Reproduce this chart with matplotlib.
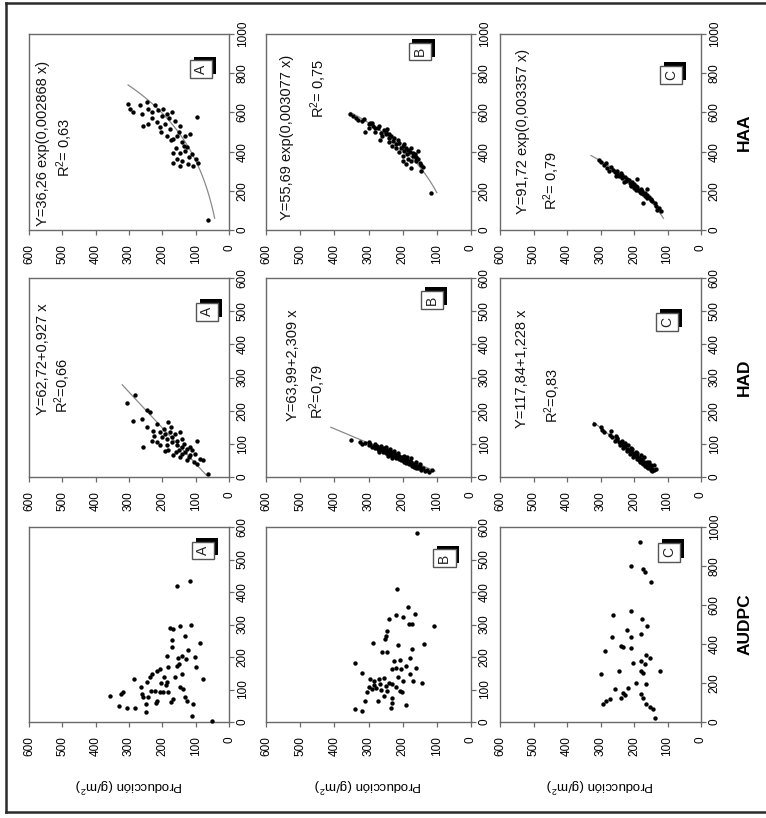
import numpy as np
import matplotlib
matplotlib.use("Agg")
import matplotlib.pyplot as plt
from matplotlib.lines import Line2D
import matplotlib.patheffects as pe

plt.rcParams['font.family'] = ['Liberation Sans', 'DejaVu Sans']
plt.rcParams['mathtext.fontset'] = 'custom'
plt.rcParams['mathtext.rm'] = 'Liberation Sans'
plt.rcParams['mathtext.it'] = 'Liberation Sans:italic'

# ---------------- data (production g/m2 vs disease variable) ----------------
audpc_a_prod = [117,155,177,167,147,114,132,172,87,124,187,152,142,129,102,99,157,182,207,217,232,237,142,162,285,79,187,189,245,264,147,137,222,207,197,182,317,324,357,262,257,242,217,219,169,175,132,127,107,329,307,282,249,249,112,52,195,170,150,235,205]
audpc_a_x = [435,417,289,286,296,299,266,252,242,222,202,198,203,195,201,168,173,170,163,156,148,137,148,137,132,132,124,114,122,107,109,102,96,92,92,92,91,86,81,86,76,76,66,58,71,61,76,66,55,50,42,42,55,30,19,2,140,230,180,95,120]

audpc_b_prod = [159,218,184,164,220,240,199,181,174,109,245,250,252,288,215,139,260,245,174,179,225,209,189,161,340,232,220,204,179,320,169,144,295,285,270,255,300,290,278,265,250,240,230,220,209,201,272,310,232,230,191,340,320,235,305,255,245,215,262,285,198]
audpc_b_x = [582,410,353,332,329,317,322,302,302,296,281,265,255,242,237,240,214,216,224,196,188,191,173,165,183,163,165,163,147,150,125,121,132,127,132,134,109,101,106,116,111,121,116,109,96,91,65,65,75,58,51,39,34,44,91,80,96,140,100,115,125]

audpc_c_prod = [183,208,173,168,148,208,263,175,161,265,221,208,178,238,233,208,288,163,153,178,203,168,245,178,173,123,298,193,163,218,233,228,238,258,178,173,283,293,273,163,153,143,138]
audpc_c_x = [921,798,785,768,717,571,551,529,491,437,474,437,449,392,386,380,363,346,329,312,304,295,261,261,249,264,244,201,193,176,150,136,124,167,142,125,107,90,116,90,78,65,20]

had_a_prod = [282,307,247,237,287,262,217,182,227,207,192,177,162,147,257,232,217,187,172,157,142,97,132,117,102,87,167,147,127,182,97,77,62,207,192,142,117,200,170,155,135,125,110,150,160,120,105,140,185,195,175,225,245]
had_a_x = [246,223,201,196,168,176,161,166,140,135,130,137,130,135,90,110,105,115,105,95,90,110,75,65,70,55,65,60,50,80,39,50,9,95,78,115,90,120,120,110,100,85,80,80,75,60,45,70,95,145,150,125,150]

had_b_prod = [350,326,318,310,300,295,290,285,280,275,272,268,265,260,258,255,250,248,245,242,240,236,234,230,228,225,222,220,218,215,212,210,207,204,202,200,197,195,192,190,187,185,182,180,177,175,172,170,167,165,160,158,155,150,145,140,135,130,122,115,300,280,262,250,238,226,214,196,186,176,160,150,270,244,232]
had_b_x = [112,106,100,104,95,99,90,94,88,92,84,80,88,82,76,86,78,72,80,70,76,66,74,68,62,72,64,58,66,60,54,64,56,50,60,52,46,56,48,42,52,44,40,48,38,44,34,40,30,36,28,34,26,30,22,26,18,22,14,20,105,100,94,90,84,78,72,64,60,56,44,40,74,64,58]

had_c_prod = [318,300,296,290,272,265,252,258,245,236,242,228,232,220,214,222,210,202,212,200,196,190,204,186,192,180,186,175,182,170,176,165,172,160,166,156,162,150,158,146,150,140,145,135,150,160,175,180,195,205,218,235,255,270,250,228,210,190,170,155,140]
had_c_x = [160,150,142,135,128,120,115,110,105,100,96,92,88,85,82,78,75,72,70,67,64,62,60,57,55,52,50,48,46,44,42,40,38,36,34,32,30,28,26,24,22,20,18,25,35,45,55,65,75,85,95,110,125,140,118,104,88,72,60,45,36]

haa_a_prod = [62,302,297,287,267,262,247,242,232,222,212,197,187,172,257,242,217,207,192,177,162,147,97,187,167,157,142,132,117,147,132,112,157,167,142,122,107,92,147,127,167,200,180,230,205,150,135,160,120,100,175]
haa_a_x = [52,644,619,601,636,593,653,619,601,636,610,619,593,601,533,541,550,524,541,515,558,533,576,481,464,481,447,481,490,395,404,387,361,344,352,335,326,344,326,421,395,580,570,570,500,500,430,420,370,360,460]

haa_b_prod = [355,336,346,312,297,287,273,263,248,239,229,219,205,195,186,171,161,156,190,176,161,147,200,117,330,320,300,290,280,270,255,250,245,240,235,225,215,210,200,195,190,185,180,175,170,165,160,155,150,145,140,185,200,220,240,260,280,300,310,265,230,210,175]
haa_b_x = [590,573,582,565,547,531,522,496,488,471,454,437,420,403,386,394,369,403,335,318,352,301,352,190,560,555,540,545,520,530,510,500,515,490,480,470,460,445,430,440,420,410,400,420,380,390,375,360,340,330,320,360,380,420,450,480,500,520,500,460,430,400,350]

haa_c_prod = [305,300,285,290,270,280,262,250,258,240,250,235,245,228,236,222,215,225,205,212,200,208,195,190,200,180,188,175,182,168,172,160,168,155,162,150,145,138,135,125,130,118,172,160,190,275,255,230,210,195,178,165,150]
haa_c_x = [355,345,340,330,320,315,305,300,295,290,285,280,275,270,265,260,255,250,245,240,235,230,225,220,215,210,205,200,195,190,185,180,175,170,165,160,150,140,120,110,100,95,140,210,260,300,275,245,225,205,190,175,155]

had_coef = [(62.72, 0.927), (63.99, 2.309), (117.84, 1.228)]
had_range = [(4, 278), (18, 150), (20, 165)]
haa_coef = [(36.26, 0.002868), (55.69, 0.003077), (91.72, 0.003357)]
haa_range = [(60, 740), (190, 600), (60, 380)]

had_eq = ["Y=62,72+0,927 x", "Y=63,99+2,309 x", "Y=117,84+1,228 x"]
had_r2 = ["0,66", "0,79", "0,83"]
haa_eq = ["Y=36,26 exp(0,002868 x)", "Y=55,69 exp(0,003077 x)", "Y=91,72 exp(0,003357 x)"]
haa_r2 = ["0,63", "0,75", "0,79"]
panel_letters = ["A", "B", "C"]
var_names = ["HAA", "HAD", "AUDPC"]

# ---------------- layout (image pixel boxes) ----------------
W, H = 766, 818
col_px = [(29, 229), (266, 471), (500, 701)]
row_px = [(34, 230), (278, 477), (527, 722)]

fig = plt.figure(figsize=(W / 100, H / 100), dpi=100)
fig.patch.set_facecolor('white')

spine_c = '#6a6a6a'

def make_ax(ci, ri):
    x0, x1 = col_px[ci]
    y0, y1 = row_px[ri]
    ax = fig.add_axes([x0 / W, 1 - y1 / H, (x1 - x0) / W, (y1 - y0) / H])
    for s in ax.spines.values():
        s.set_color(spine_c)
        s.set_linewidth(1.0)
    return ax

panels = {
    (0, 2): (audpc_a_prod, audpc_a_x, 600), (1, 2): (audpc_b_prod, audpc_b_x, 600), (2, 2): (audpc_c_prod, audpc_c_x, 1000),
    (0, 1): (had_a_prod, had_a_x, 600), (1, 1): (had_b_prod, had_b_x, 600), (2, 1): (had_c_prod, had_c_x, 600),
    (0, 0): (haa_a_prod, haa_a_x, 1000), (1, 0): (haa_b_prod, haa_b_x, 1000), (2, 0): (haa_c_prod, haa_c_x, 1000),
}

box_pos = {(0, 2): (0.87, 0.88), (1, 2): (0.87, 0.84), (2, 2): (0.84, 0.87),
           (0, 1): (0.89, 0.83), (1, 1): (0.81, 0.89), (2, 1): (0.83, 0.78),
           (0, 0): (0.86, 0.82), (1, 0): (0.75, 0.91), (2, 0): (0.85, 0.79)}

eq_pos = {(0, 1): ((0.07, 0.31), (0.17, 0.32)), (1, 1): ((0.13, 0.28), (0.25, 0.29)), (2, 1): ((0.11, 0.245), (0.26, 0.27)),
          (0, 0): ((0.07, 0.02), (0.18, 0.27)), (1, 0): ((0.10, 0.05), (0.255, 0.57)), (2, 0): ((0.115, 0.08), (0.257, 0.10))}

shadow = [pe.withSimplePatchShadow(offset=(2.8, 2.8), shadow_rgbFace='black', alpha=1.0)]

for (ci, ri), (prod, xv, ymax) in panels.items():
    ax = make_ax(ci, ri)
    ax.scatter(prod, xv, s=10, c='black', linewidths=0, zorder=3, clip_on=False)
    if ri == 1:
        a, b = had_coef[ci]
        hv = np.linspace(*had_range[ci], 50)
        ax.plot(a + b * hv, hv, color='#8a8a8a', lw=0.9, zorder=2)
    elif ri == 0:
        a, b = haa_coef[ci]
        hv = np.linspace(*haa_range[ci], 80)
        ax.plot(a * np.exp(b * hv), hv, color='#8a8a8a', lw=0.9, zorder=2)
    ax.set_xlim(600, 0)
    ax.set_ylim(0, ymax)
    ax.set_xticks(range(0, 601, 100))
    ax.set_xticklabels([str(v) for v in range(0, 601, 100)], rotation=90, fontsize=8.5)
    step = 200 if ymax == 1000 else 100
    yt = list(range(0, ymax + 1, step))
    ax.yaxis.tick_right()
    ax.set_yticks(yt)
    ax.set_yticklabels([str(v) for v in yt], rotation=90, va='center', fontsize=8.5)
    ax.tick_params(axis='x', direction='out', length=3.5, width=0.9, color=spine_c, pad=7, top=False)
    ax.tick_params(axis='y', direction='out', length=3.5, width=0.9, color=spine_c, pad=2, left=False, right=True,
                   labelright=True, labelleft=False)
    # panel letter with shadowed box
    bx, by = box_pos[(ci, ri)]
    t = ax.text(bx, by, panel_letters[ci], transform=ax.transAxes, rotation=90, ha='center', va='center',
                fontsize=10, color='#222222',
                bbox=dict(boxstyle='square,pad=0.3', fc='white', ec='#555555', lw=1), zorder=5)
    t.get_bbox_patch().set_path_effects(shadow)
    # equations
    if ri in (0, 1):
        eqs = haa_eq if ri == 0 else had_eq
        r2s = haa_r2 if ri == 0 else had_r2
        (ex, ey), (rx, ry) = eq_pos[(ci, ri)]
        ax.text(ex, ey, eqs[ci], transform=ax.transAxes, rotation=90, rotation_mode='anchor',
                ha='left', va='center', fontsize=10.5, color='#111111')
        sep = '= ' if ri == 0 else '='
        ax.text(rx, ry, r'R$^{2}$' + sep + r2s[ci], transform=ax.transAxes, rotation=90, rotation_mode='anchor',
                ha='left', va='center', fontsize=10.5, color='#111111')
    if ri == 2:
        ax.set_xlabel(r'Producción (g/m$^{2}$)', rotation=180, fontsize=9.5, labelpad=14)
    if ci == 2:
        ax.yaxis.set_label_position('right')
        ax.set_ylabel(var_names[ri], rotation=90, fontsize=12.5, fontweight='bold', labelpad=12)

# outer frame of the scanned figure
for (xa, ya, xb, yb) in [(6, 3, 6, 812), (6, 3, 766, 3), (6, 812, 766, 812)]:
    fig.add_artist(Line2D([xa / W, xb / W], [1 - ya / H, 1 - yb / H], color='#2a2a2a', lw=1.8))

fig.savefig('out.png', dpi=100, facecolor='white')
